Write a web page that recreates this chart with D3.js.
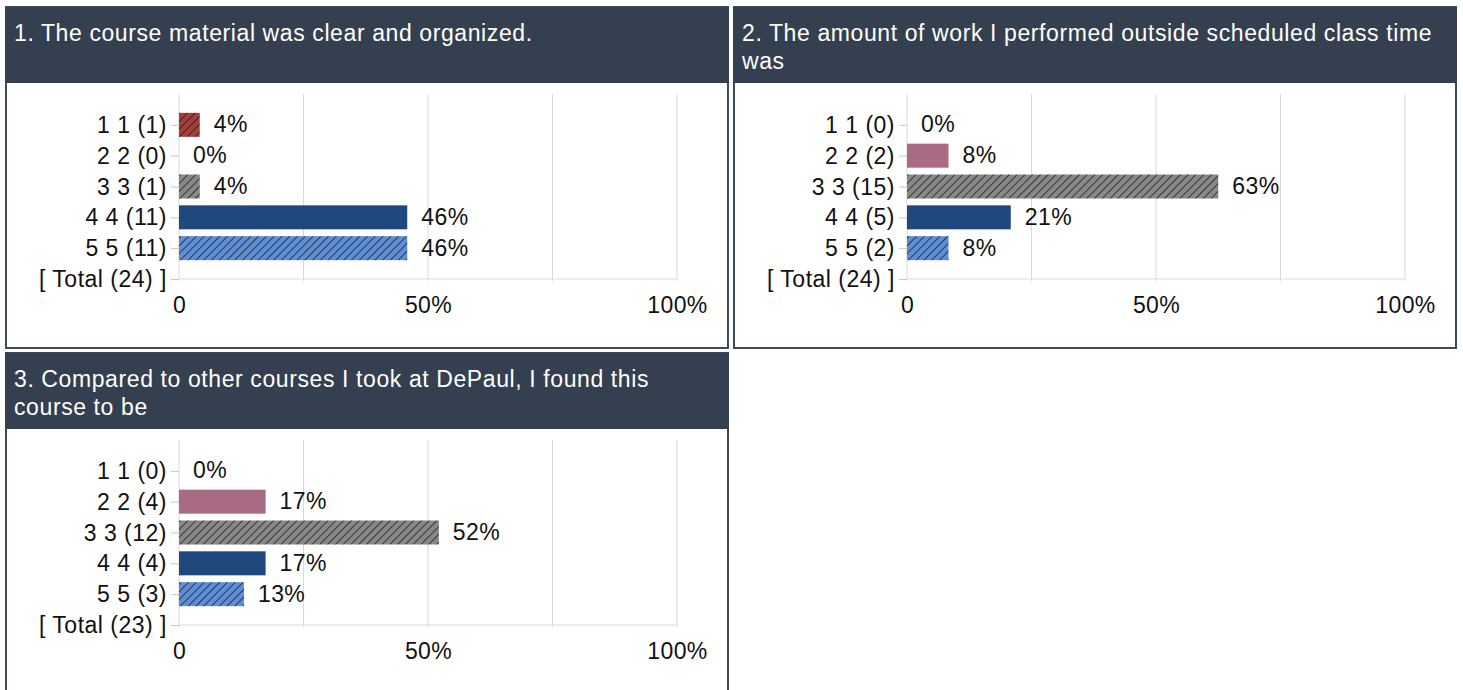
<!DOCTYPE html>
<html>
<head>
<meta charset="utf-8">
<script src="https://cdn.jsdelivr.net/npm/d3@7"></script>
<style>
  body { margin: 0; background: #fff; }
  text { font-family: "Liberation Sans", Arial, sans-serif; }
</style>
</head>
<body>
<div id="chart"></div>
<script>
// survey data
var categories = ["1 1", "2 2", "3 3", "4 4", "5 5"];
var q1Title  = ["1. The course material was clear and organized."];
var q2Title  = ["2. The amount of work I performed outside scheduled class time", "was"];
var q3Title  = ["3. Compared to other courses I took at DePaul, I found this", "course to be"];
var q1Counts = [1, 0, 1, 11, 11];
var q2Counts = [0, 2, 15, 5, 2];
var q3Counts = [0, 4, 12, 4, 3];
var axisTicks = [0, 0.5, 1];
var gridTicks = [0, 0.25, 0.5, 0.75, 1];

// style per row: fill colour and whether it is hatched
var rowStyles = [
  { color: "#a3403b", hatch: true },
  { color: "#a86b83", hatch: false },
  { color: "#888888", hatch: true },
  { color: "#1f497d", hatch: false },
  { color: "#5d8fd8", hatch: true }
];

var questions = [
  { title: q1Title, counts: q1Counts, x: 5,   y: 7 },
  { title: q2Title, counts: q2Counts, x: 733, y: 7 },
  { title: q3Title, counts: q3Counts, x: 5,   y: 353 }
];

var panelW = 723, panelH = 341, headerH = 76;
var fontSize = "23px";

var svg = d3.select("#chart").append("svg")
    .attr("width", 1463)
    .attr("height", 690);

svg.append("rect").attr("width", "100%").attr("height", "100%").attr("fill", "white");

// hatch patterns
var defs = svg.append("defs");
rowStyles.forEach(function(s, i) {
  if (!s.hatch) return;
  var p = defs.append("pattern")
      .attr("id", "hatch" + i)
      .attr("patternUnits", "userSpaceOnUse")
      .attr("width", 5.5).attr("height", 5.5)
      .attr("patternTransform", "rotate(45)");
  p.append("rect").attr("width", 5.5).attr("height", 5.5).attr("fill", s.color);
  p.append("line").attr("x1", 0).attr("y1", 0).attr("x2", 0).attr("y2", 5.5)
      .attr("stroke", "#1c1c1c").attr("stroke-width", 1.5);
});

var x = d3.scaleLinear().domain([0, 1]).range([174, 672]);

questions.forEach(function(q) {
  var total = d3.sum(q.counts);
  var rows = q.counts.map(function(c, i) {
    return { label: categories[i] + " (" + c + ")", count: c, pct: c / total, style: rowStyles[i], idx: i };
  });
  var labels = [""].concat(rows.map(function(r) { return r.label; }), ["[ Total (" + total + ") ]"]);

  var y = d3.scalePoint().domain(labels).range([87, 272]);

  var g = svg.append("g").attr("transform", "translate(" + q.x + "," + q.y + ")");

  // frame and header
  g.append("rect")
      .attr("x", 1).attr("y", 0)
      .attr("width", panelW - 1).attr("height", panelH)
      .attr("fill", "white")
      .attr("stroke", "#3e4b5e")
      .attr("stroke-width", 2);
  g.append("rect")
      .attr("x", 0).attr("y", 0)
      .attr("width", panelW + 1).attr("height", headerH)
      .attr("fill", "#343f4f");
  g.selectAll(".title")
      .data(q.title)
      .enter()
      .append("text")
      .attr("x", 9)
      .attr("y", function(d, i) { return 34 + i * 28; })
      .attr("fill", "white")
      .attr("font-size", fontSize)
      .attr("letter-spacing", "0.6px")
      .text(function(d) { return d; });

  // gridlines
  g.selectAll(".grid")
      .data(gridTicks)
      .enter()
      .append("line")
      .attr("x1", function(d) { return x(d); })
      .attr("x2", function(d) { return x(d); })
      .attr("y1", y(""))
      .attr("y2", y(labels[labels.length - 1]) + 2)
      .attr("stroke", "#d9d9d9")
      .attr("stroke-width", 1);
  g.append("line")
      .attr("x1", x(0)).attr("x2", x(1))
      .attr("y1", y(labels[labels.length - 1]))
      .attr("y2", y(labels[labels.length - 1]))
      .attr("stroke", "#d9d9d9");

  // bars
  g.selectAll(".bar")
      .data(rows)
      .enter()
      .append("rect")
      .attr("x", x(0))
      .attr("y", function(d) { return y(d.label) - 12; })
      .attr("width", function(d) { return x(d.pct) - x(0); })
      .attr("height", 24)
      .attr("fill", function(d) { return d.style.hatch ? "url(#hatch" + d.idx + ")" : d.style.color; });

  // value labels
  g.selectAll(".val")
      .data(rows)
      .enter()
      .append("text")
      .attr("x", function(d) { return x(d.pct) + 14; })
      .attr("y", function(d) { return y(d.label); })
      .attr("dy", "0.33em")
      .attr("font-size", fontSize)
      .attr("letter-spacing", "0.4px")
      .attr("fill", "#111")
      .text(function(d) { return Math.round(d.pct * 100) + "%"; });

  // category axis
  var yAxis = d3.axisLeft(y)
      .tickValues(labels.slice(1))
      .tickSize(8)
      .tickPadding(4);
  var ya = g.append("g").attr("transform", "translate(" + x(0) + ",0)").call(yAxis);
  ya.select(".domain").remove();
  ya.selectAll(".tick line").attr("stroke", "#c8c8c8");
  ya.selectAll(".tick text")
      .attr("dy", "0.33em")
      .attr("font-size", fontSize)
      .attr("letter-spacing", "0.5px")
      .attr("font-family", "Liberation Sans, Arial, sans-serif")
      .attr("fill", "#111");

  // percentage axis
  var xAxis = d3.axisBottom(x)
      .tickValues(axisTicks)
      .tickSize(0)
      .tickPadding(0)
      .tickFormat(function(d) { return d === 0 ? "0" : d3.format(".0%")(d); });
  var xa = g.append("g").attr("transform", "translate(0,290)").call(xAxis);
  xa.select(".domain").remove();
  xa.selectAll(".tick text")
      .attr("dy", "0.71em")
      .attr("font-size", fontSize)
      .attr("letter-spacing", "0.4px")
      .attr("font-family", "Liberation Sans, Arial, sans-serif")
      .attr("fill", "#111");
});
</script>
</body>
</html>
